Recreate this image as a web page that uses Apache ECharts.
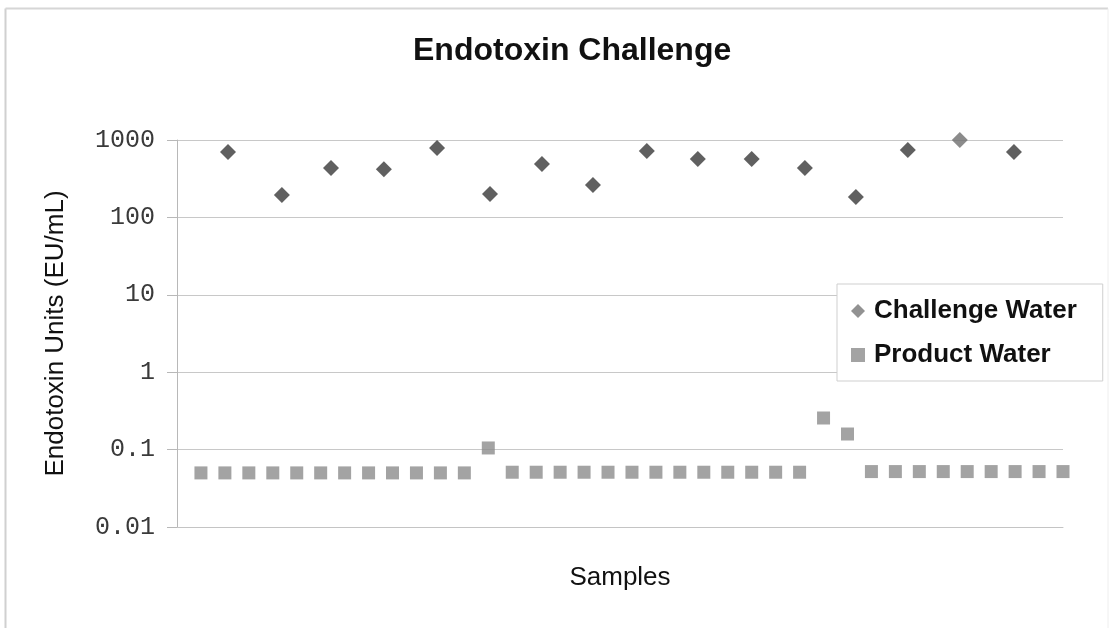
<!DOCTYPE html>
<html>
<head>
<meta charset="utf-8">
<script src="https://cdn.jsdelivr.net/npm/echarts@6/dist/echarts.min.js"></script>
<style>
html,body{margin:0;padding:0;background:#fff;}
#chart{width:1110px;height:628px;}
</style>
</head>
<body>
<div id="chart"></div>
<script>
// ---- data ----
var chartTitle = 'Endotoxin Challenge';
var yAxisName = 'Endotoxin Units (EU/mL)';
var xAxisName = 'Samples';
var seriesNames = ['Challenge Water', 'Product Water'];
var yTickLabels = ['0.01', '0.1', '1', '10', '100', '1000'];

var challengeX = [2.13, 4.38, 6.43, 8.64, 10.86, 13.07, 15.24, 17.37, 19.62, 21.75, 24.0, 26.22, 28.35, 30.52, 32.69, 34.95];
var challengeY = [700, 195, 435, 420, 790, 200, 490, 262, 720, 570, 570, 435, 184, 745, 1000, 700];

var productX = [1, 2, 3, 4, 5, 6, 7, 8, 9, 10, 11, 12, 13, 14, 15, 16, 17, 18, 19, 20, 21, 22, 23, 24, 25, 26, 27, 28, 29, 30, 31, 32, 33, 34, 35, 36, 37];
var productY = [0.05, 0.05, 0.05, 0.05, 0.05, 0.05, 0.05, 0.05, 0.05, 0.05, 0.05, 0.05, 0.105,
                0.051, 0.051, 0.051, 0.051, 0.051, 0.051, 0.051, 0.051, 0.051, 0.051, 0.051, 0.051, 0.051,
                0.256, 0.159,
                0.052, 0.052, 0.052, 0.052, 0.052, 0.052, 0.052, 0.052, 0.052];

function pairs(xs, ys) {
  var out = [];
  for (var i = 0; i < xs.length; i++) out.push([xs[i], ys[i]]);
  return out;
}

var challengeData = pairs(challengeX, challengeY).map(function (p) {
  if (p[1] >= 1000) return { value: p, itemStyle: { color: '#6e6e6e' } };
  return p;
});

var chart = echarts.init(document.getElementById('chart'));
chart.setOption({
  backgroundColor: '#ffffff',
  animation: false,
  title: {
    text: chartTitle,
    left: 413,
    top: 35,
    padding: 0,
    textStyle: { fontFamily: 'Liberation Sans', fontSize: 32, fontWeight: 'bold', color: '#111' }
  },
  graphic: [
    { type: 'line', shape: { x1: 5.5, y1: 8.5, x2: 5.5, y2: 628 }, style: { stroke: '#d0d0d0', lineWidth: 2 }, silent: true },
    { type: 'line', shape: { x1: 5.5, y1: 8.5, x2: 1108, y2: 8.5 }, style: { stroke: '#d6d6d6', lineWidth: 2 }, silent: true },
    { type: 'line', shape: { x1: 1108, y1: 8.5, x2: 1108, y2: 628 }, style: { stroke: '#eeeeee', lineWidth: 1 }, silent: true }
  ],
  legend: {
    orient: 'vertical',
    left: 837,
    top: 284,
    padding: [12, 26, 11, 14],
    itemWidth: 14,
    itemHeight: 14,
    itemGap: 14,
    borderColor: '#cfcfcf',
    borderWidth: 1,
    backgroundColor: '#fff',
    textStyle: { fontFamily: 'Liberation Sans', fontSize: 26, fontWeight: 'bold', color: '#111', lineHeight: 30, padding: [0, 0, 0, 4] },
    data: [
      { name: seriesNames[0], icon: 'diamond', itemStyle: { color: '#777' } },
      { name: seriesNames[1], icon: 'rect', itemStyle: { color: '#8c8c8c' } }
    ]
  },
  grid: { left: 177, right: 47, top: 140, bottom: 101 },
  xAxis: {
    type: 'value',
    min: 0,
    max: 37,
    name: xAxisName,
    nameLocation: 'middle',
    nameGap: 38,
    nameTextStyle: { fontFamily: 'Liberation Sans', fontSize: 26, color: '#111' },
    axisLine: { show: true, lineStyle: { color: '#c4c4c4', width: 1 } },
    axisTick: { show: false },
    axisLabel: { show: false },
    splitLine: { show: false }
  },
  yAxis: {
    type: 'log',
    logBase: 10,
    min: 0.01,
    max: 1000,
    name: yAxisName,
    nameLocation: 'middle',
    nameGap: 108,
    nameRotate: 90,
    nameTextStyle: { fontFamily: 'Liberation Sans', fontSize: 26, color: '#111' },
    axisLine: { show: true, lineStyle: { color: '#b8b8b8', width: 1 } },
    axisTick: { show: true, inside: false, length: 10, lineStyle: { color: '#b8b8b8' } },
    axisLabel: {
      margin: 22,
      fontFamily: 'Liberation Mono',
      fontSize: 25,
      color: '#3a3a3a',
      formatter: function (v) {
        var k = Math.round(Math.log(v) / Math.LN10) + 2;
        return yTickLabels[k] !== undefined ? yTickLabels[k] : '';
      }
    },
    splitLine: { show: true, lineStyle: { color: '#c8c8c8', width: 1 } }
  },
  series: [
    {
      name: seriesNames[0],
      type: 'scatter',
      symbol: 'diamond',
      symbolSize: 16,
      clip: false,
      itemStyle: { color: '#383838' },
      data: challengeData,
      z: 3
    },
    {
      name: seriesNames[1],
      type: 'scatter',
      symbol: 'rect',
      symbolSize: 13,
      clip: false,
      itemStyle: { color: '#8c8c8c' },
      data: pairs(productX, productY),
      z: 2
    }
  ]
});
</script>
</body>
</html>
